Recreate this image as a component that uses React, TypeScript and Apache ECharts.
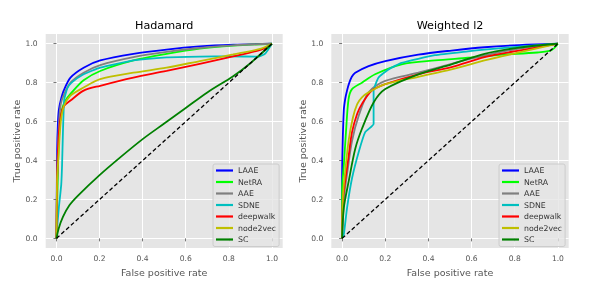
import React, { useEffect, useRef } from "react";
import * as echarts from "echarts";

const seriesNames = ["LAAE", "NetRA", "AAE", "SDNE", "deepwalk", "node2vec", "SC"];
const seriesColors = ["#0000ff", "#00ff00", "#808080", "#00bfbf", "#ff0000", "#bfbf00", "#008000"];
const titles = ["Hadamard", "Weighted l2"];
const tickValues = [0, 0.2, 0.4, 0.6, 0.8, 1.0];
const diagonal = [[0, 0], [1, 1]];

// Hadamard
const hadLAAE = [[0,0],[0.003,0.45],[0.006,0.58],[0.011,0.66],[0.02,0.71],[0.034,0.76],[0.065,0.826],[0.126,0.877],[0.203,0.914],[0.357,0.948],[0.511,0.97],[0.665,0.986],[0.82,0.995],[1,1]];
const hadNetRA = [[0,0],[0.008,0.4],[0.015,0.58],[0.025,0.66],[0.04,0.705],[0.065,0.742],[0.126,0.812],[0.203,0.86],[0.357,0.914],[0.511,0.948],[0.665,0.975],[0.82,0.99],[1,1]];
const hadAAE = [[0,0],[0.005,0.4],[0.012,0.6],[0.02,0.69],[0.035,0.74],[0.065,0.8],[0.126,0.851],[0.203,0.89],[0.357,0.931],[0.511,0.958],[0.665,0.978],[0.82,0.992],[1,1]];
const hadSDNE = [[0,0],[0.005,0.08],[0.011,0.157],[0.022,0.275],[0.026,0.377],[0.03,0.547],[0.036,0.714],[0.05,0.77],[0.07,0.8],[0.126,0.843],[0.203,0.877],[0.357,0.914],[0.511,0.93],[0.665,0.934],[0.8,0.935],[0.94,0.934],[0.97,0.951],[1,1]];
const hadDeepwalk = [[0,0],[0.004,0.35],[0.012,0.55],[0.022,0.64],[0.035,0.68],[0.065,0.708],[0.126,0.759],[0.203,0.784],[0.357,0.826],[0.511,0.86],[0.665,0.897],[0.82,0.935],[0.95,0.97],[1,1]];
const hadNode2vec = [[0,0],[0.003,0.3],[0.011,0.45],[0.02,0.6],[0.035,0.68],[0.065,0.733],[0.126,0.775],[0.203,0.818],[0.357,0.851],[0.511,0.877],[0.665,0.911],[0.82,0.945],[0.95,0.975],[1,1]];
const hadSC = [[0,0],[0.01,0.05],[0.03,0.11],[0.06,0.17],[0.1,0.22],[0.2,0.325],[0.3,0.42],[0.4,0.51],[0.5,0.59],[0.6,0.67],[0.7,0.75],[0.82,0.833],[0.9,0.9],[1,1]];

// Weighted l2
const wLAAE = [[0,0],[0,0.3],[0.002,0.46],[0.008,0.66],[0.015,0.72],[0.023,0.76],[0.032,0.795],[0.045,0.83],[0.061,0.851],[0.123,0.885],[0.2,0.911],[0.353,0.944],[0.507,0.965],[0.66,0.982],[0.82,0.993],[1,1]];
const wNetRA = [[0,0],[0,0.25],[0.008,0.377],[0.018,0.546],[0.03,0.715],[0.046,0.767],[0.092,0.8],[0.153,0.843],[0.276,0.894],[0.43,0.914],[0.583,0.928],[0.73,0.943],[0.905,0.955],[0.97,0.967],[1,1]];
const wAAE = [[0,0],[0.01,0.22],[0.023,0.33],[0.046,0.5],[0.077,0.63],[0.123,0.75],[0.2,0.809],[0.353,0.851],[0.507,0.897],[0.66,0.94],[0.82,0.975],[1,1]];
const wSDNE = [[0,0],[0.008,0.02],[0.023,0.157],[0.046,0.309],[0.077,0.444],[0.107,0.546],[0.146,0.588],[0.146,0.758],[0.169,0.826],[0.215,0.868],[0.276,0.902],[0.43,0.941],[0.583,0.961],[0.66,0.97],[0.82,0.985],[1,1]];
const wDeepwalk = [[0,0],[0.004,0.2],[0.015,0.3],[0.03,0.42],[0.046,0.546],[0.07,0.64],[0.092,0.691],[0.138,0.759],[0.2,0.792],[0.353,0.843],[0.507,0.88],[0.66,0.931],[0.82,0.965],[1,1]];
const wNode2vec = [[0,0],[0.004,0.22],[0.015,0.35],[0.03,0.5],[0.05,0.62],[0.07,0.69],[0.092,0.725],[0.123,0.75],[0.2,0.792],[0.353,0.83],[0.507,0.868],[0.66,0.914],[0.82,0.955],[1,1]];
const wSC = [[0,0],[0.008,0.157],[0.03,0.29],[0.061,0.46],[0.092,0.563],[0.146,0.698],[0.2,0.767],[0.353,0.843],[0.507,0.894],[0.66,0.948],[0.82,0.98],[1,1]];

const panels = [
  [hadLAAE, hadNetRA, hadAAE, hadSDNE, hadDeepwalk, hadNode2vec, hadSC],
  [wLAAE, wNetRA, wAAE, wSDNE, wDeepwalk, wNode2vec, wSC],
];

const FONT = "DejaVu Sans";
const gridDefs = [
  { left: 45.7, top: 34, width: 237, height: 216.3 },
  { left: 331.3, top: 34, width: 237.4, height: 216.3 },
];
const legendLefts = [213, 499];
const yNameGaps = [23, 22];

export default function App() {
  const ref = useRef<HTMLDivElement>(null);
  useEffect(() => {
    if (!ref.current) return;
    const chart = echarts.init(ref.current, null, { renderer: "svg" });
    const axisCommon = {
      type: "value",
      min: -0.05,
      max: 1.05,
      axisLine: { show: false },
      axisTick: { show: true, length: 3, customValues: tickValues, lineStyle: { color: "#555555", width: 0.8 } },
      axisLabel: {
        customValues: tickValues,
        formatter: (v: number) => v.toFixed(1),
        color: "#555555",
        fontFamily: FONT,
        fontSize: 7.6,
      },
      splitLine: { show: true, lineStyle: { color: "#ffffff", width: 1 } },
      nameLocation: "middle",
      nameTextStyle: { color: "#555555", fontFamily: FONT, fontSize: 9.5 },
    };
    const xAxis = gridDefs.map((_, i) => ({
      ...axisCommon,
      gridIndex: i,
      name: "False positive rate",
      nameGap: 12.5,
      axisLabel: { ...axisCommon.axisLabel, margin: 6 },
    }));
    const yAxis = gridDefs.map((_, i) => ({
      ...axisCommon,
      gridIndex: i,
      name: "True positive rate",
      nameGap: yNameGaps[i],
      axisLabel: { ...axisCommon.axisLabel, margin: 8 },
    }));
    const series: any[] = [];
    panels.forEach((panel, gi) => {
      panel.forEach((data, si) => {
        series.push({
          type: "line",
          name: seriesNames[si],
          xAxisIndex: gi,
          yAxisIndex: gi,
          data,
          symbol: "none",
          showSymbol: false,
          smooth: seriesNames[si] === "SDNE" ? 0.15 : 0.3,
          lineStyle: { color: seriesColors[si], width: 1.8 },
          itemStyle: { color: seriesColors[si] },
        });
      });
      series.push({
        type: "line",
        name: "diag",
        xAxisIndex: gi,
        yAxisIndex: gi,
        data: diagonal,
        symbol: "none",
        showSymbol: false,
        lineStyle: { color: "#000000", width: 1.3, type: [4, 2.5] },
      });
    });
    chart.setOption({
      animation: false,
      title: titles.map((t, i) => ({
        text: t,
        left: gridDefs[i].left + gridDefs[i].width / 2,
        top: 19.5,
        textAlign: "center",
        padding: 0,
        textStyle: { fontFamily: FONT, fontSize: 11.2, fontWeight: "normal", color: "#000000" },
      })),
      grid: gridDefs.map((g) => ({
        ...g,
        show: true,
        backgroundColor: "#E5E5E5",
        borderWidth: 0,
        containLabel: false,
      })),
      xAxis,
      yAxis,
      legend: legendLefts.map((l) => ({
        data: seriesNames.map((n) => ({ name: n, icon: "rect" })),
        orient: "vertical",
        left: l,
        top: 164,
        itemWidth: 17,
        itemHeight: 2.2,
        itemGap: 3.5,
        padding: [2.5, 3, 3, 3],
        backgroundColor: "rgba(229,229,229,0.8)",
        borderColor: "#CCCCCC",
        borderWidth: 1,
        borderRadius: 2,
        selectedMode: false,
        textStyle: { fontFamily: FONT, fontSize: 7.8, color: "#333333", lineHeight: 8 },
      })),
      series,
    });
    return () => chart.dispose();
  }, []);
  return (
    <div
      ref={ref}
      style={{ position: "fixed", left: 0, top: 0, width: 598, height: 282 }}
    />
  );
}
